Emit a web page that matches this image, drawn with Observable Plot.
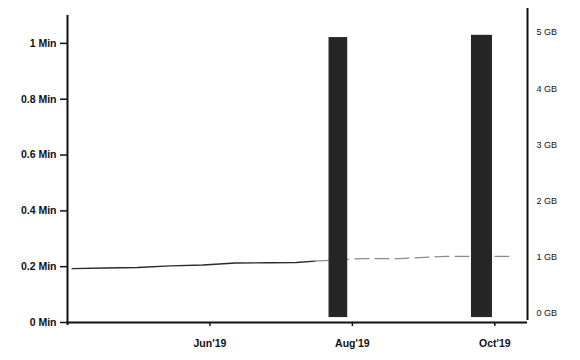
<!DOCTYPE html>
<html><head><meta charset="utf-8">
<script src="https://cdn.jsdelivr.net/npm/d3@7"></script>
<script src="https://cdn.jsdelivr.net/npm/@observablehq/plot@0.6"></script>
<style>
html,body{margin:0;padding:0;background:#fff}
#chart svg{display:block}
</style>
</head><body><div id="chart"></div>
<script>
// Line series (left axis, minutes)
const lineDates = ["2019-04-03","2019-04-17","2019-05-01","2019-05-15","2019-05-29","2019-06-12","2019-06-26","2019-07-08","2019-07-16","2019-08-05","2019-08-21","2019-09-10","2019-10-07"];
const lineMinutes = [0.193,0.195,0.197,0.203,0.206,0.213,0.214,0.215,0.220,0.229,0.229,0.237,0.237];
// Bars (right axis, GB)
const barStart = ["2019-07-22","2019-09-21"];
const barEnd = ["2019-07-30","2019-09-30"];
const barGB = [4.91, 4.95];
// Axes
const minTicks = [0, 0.2, 0.4, 0.6, 0.8, 1];
const minTickLabels = ["0 Min","0.2 Min","0.4 Min","0.6 Min","0.8 Min","1 Min"];
const gbTicks = [0, 1, 2, 3, 4, 5];
const gbTickLabels = ["0 GB","1 GB","2 GB","3 GB","4 GB","5 GB"];
const monthTicks = ["2019-06-01","2019-08-01","2019-10-01"];
const monthTickLabels = ["Jun'19","Aug'19","Oct'19"];
const xDomain = ["2019-04-01","2019-10-15"];

const toDate = s => new Date(s + "T00:00:00Z");
// right (GB) axis expressed in left-axis (minute) units
const gbToMin = g => 0.032 + 0.2014 * g;
const gbTickPos = gbTicks.map(gbToMin);
const monthTickDates = monthTicks.map(toDate);

const lineData = lineDates.map((d, i) => ({date: toDate(d), v: lineMinutes[i], part: toDate(d) <= toDate("2019-07-16") ? "a" : "b"}));
const lineA = lineData.filter(d => d.date <= toDate("2019-07-16"));
const lineB = lineData.filter(d => d.date >= toDate("2019-07-16"));
const bars = barGB.map((g, i) => ({x1: toDate(barStart[i]), x2: toDate(barEnd[i]), y1: gbToMin(0), y2: gbToMin(g)}));
const x0 = toDate(xDomain[0]), x1 = toDate(xDomain[1]);

const font = "'Liberation Sans', Arial, sans-serif";

const chart = Plot.plot({
  width: 580,
  height: 360,
  marginLeft: 67,
  marginRight: 53,
  marginTop: 8,
  marginBottom: 38,
  style: {fontFamily: font, color: "#111", background: "#fff", overflow: "visible"},
  x: {type: "utc", domain: [x0, x1], label: null},
  y: {domain: [0, 1.125], label: null},
  marks: [
    Plot.line(lineA, {x: "date", y: "v", stroke: "#2a2a2a", strokeWidth: 1.4}),
    Plot.line(lineB, {x: "date", y: "v", stroke: "#8a8a8a", strokeWidth: 1.2, strokeDasharray: "14,6"}),
    Plot.rect(bars, {x1: "x1", x2: "x2", y1: "y1", y2: "y2", fill: "#262626", insetBottom: -4}),
    Plot.ruleX([x0], {y1: -0.011, y2: 1.10, stroke: "#111", strokeWidth: 2}),
    Plot.ruleX([x1], {y1: 0.007, y2: 1.125, stroke: "#111", strokeWidth: 2}),
    Plot.ruleY([0], {x1: x0, x2: x1, stroke: "#111", strokeWidth: 2}),
    Plot.axisY({anchor: "left", ticks: minTicks, tickFormat: d => minTickLabels[minTicks.indexOf(d)], tickSize: 7, tickPadding: 4, strokeWidth: 1.5, fontSize: 10.5, fontWeight: "bold", label: null}),
    Plot.axisY({anchor: "right", ticks: gbTickPos, tickFormat: d => gbTickLabels[gbTickPos.indexOf(d)], tickSize: 0, tickPadding: 9, fontSize: 9, label: null}),
    Plot.axisX({ticks: monthTickDates, tickFormat: d => monthTickLabels[monthTickDates.findIndex(t => +t === +d)], tickSize: 4, tickPadding: 13, strokeWidth: 1.5, fontSize: 10.5, fontWeight: "bold", label: null})
  ]
});
document.getElementById("chart").appendChild(chart);
</script>
</body></html>
